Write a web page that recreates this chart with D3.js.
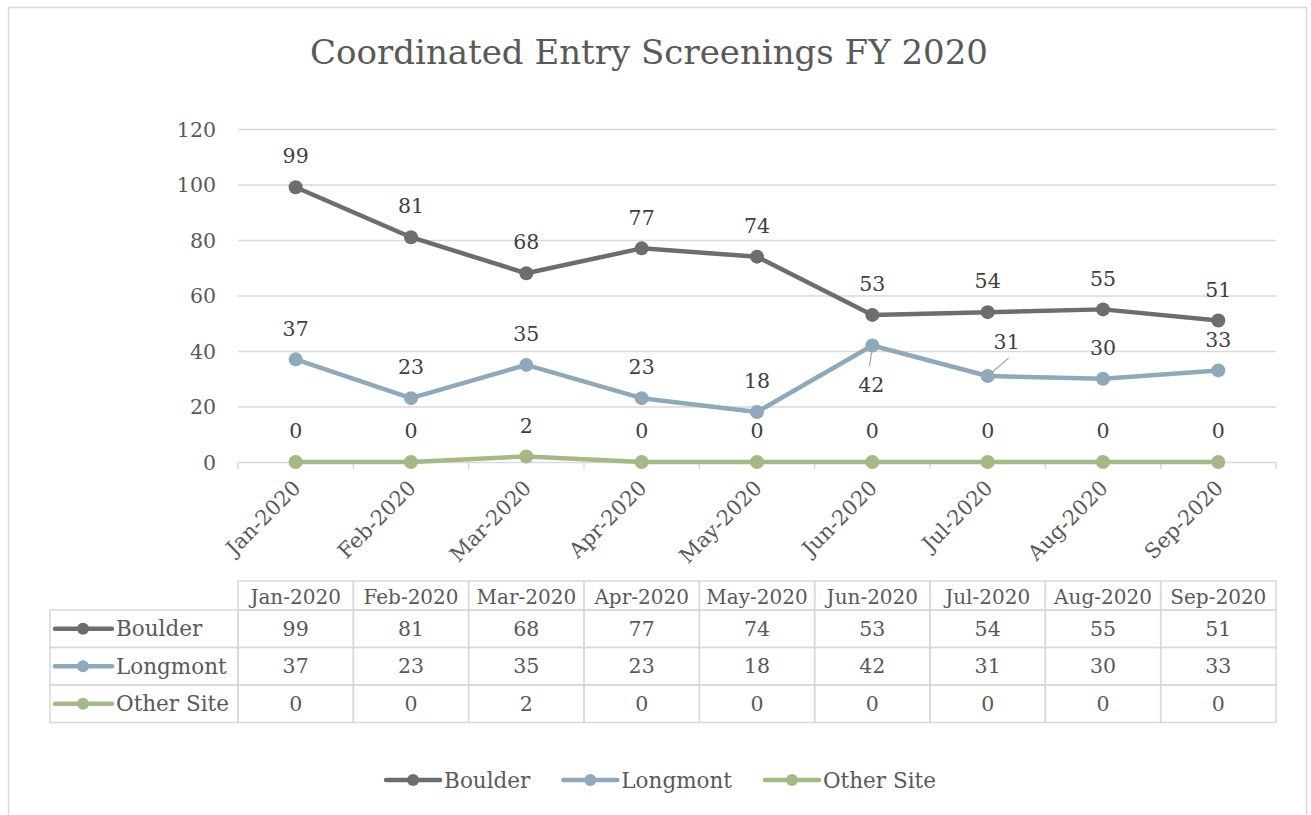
<!DOCTYPE html>
<html>
<head>
<meta charset="utf-8">
<script src="https://cdn.jsdelivr.net/npm/d3@7/dist/d3.min.js"></script>
<style>
  html, body { margin: 0; padding: 0; background: #fff; }
  svg { display: block; }
  text { font-family: "DejaVu Serif", "Liberation Serif", serif; }
</style>
</head>
<body>
<svg id="chart" width="1311" height="815"></svg>
<script>
const months = ["Jan-2020","Feb-2020","Mar-2020","Apr-2020","May-2020","Jun-2020","Jul-2020","Aug-2020","Sep-2020"];
const seriesNames = ["Boulder","Longmont","Other Site"];
const boulder = [99,81,68,77,74,53,54,55,51];
const longmont = [37,23,35,23,18,42,31,30,33];
const otherSite = [0,0,2,0,0,0,0,0,0];
const yTicks = [0,20,40,60,80,100,120];
const titleText = "Coordinated Entry Screenings FY 2020";

const colors = ["#6d6c72", "#8fa9ba", "#a5b888"];
const series = [boulder, longmont, otherSite].map((v, i) => ({ name: seriesNames[i], values: v, color: colors[i] }));

const svg = d3.select("#chart");
const textColor = "#595959";
const gridColor = "#d9d9d9";
const fsNum = 20.5;   // numbers / tick labels
const fsName = 21.5;  // series names
const fsMonth = 20;   // table header months
const fsRot = 21;     // rotated axis labels

// outer border
svg.append("rect").attr("x", 8.5).attr("y", 7.5).attr("width", 1298).attr("height", 830)
  .attr("fill", "#fff").attr("stroke", gridColor).attr("stroke-width", 1.5);

// title
svg.append("text").attr("x", 649).attr("y", 64).attr("text-anchor", "middle")
  .attr("fill", textColor).attr("font-size", 34).text(titleText);

const x = d3.scaleBand().domain(months).range([238, 1276]).padding(0);
const y = d3.scaleLinear().domain([0, 120]).range([462, 129]);
const cx = m => x(m) + x.bandwidth() / 2;

// gridlines
svg.append("g").selectAll("line").data(yTicks.filter(t => t > 0)).join("line")
  .attr("x1", 238).attr("x2", 1276).attr("y1", d => y(d) + 0.5).attr("y2", d => y(d) + 0.5)
  .attr("stroke", gridColor).attr("stroke-width", 1.5);

// y axis labels
const yAxis = d3.axisLeft(y).tickValues(yTicks).tickSize(0).tickPadding(0);
const yg = svg.append("g").attr("transform", "translate(216,0)").call(yAxis);
yg.select(".domain").remove();
yg.selectAll("text").attr("font-size", fsNum).attr("fill", textColor)
  .attr("font-family", "DejaVu Serif, serif").attr("dy", "0.35em");

// x axis line with boundary ticks
const xAxisG = svg.append("g");
xAxisG.append("line").attr("x1", 238).attr("x2", 1276).attr("y1", y(0) + 0.5).attr("y2", y(0) + 0.5)
  .attr("stroke", gridColor).attr("stroke-width", 1.5);
const bounds = months.map(m => x(m)).concat([x.range()[1]]);
xAxisG.selectAll("line.tk").data(bounds).join("line").attr("class", "tk")
  .attr("x1", d => d).attr("x2", d => d).attr("y1", y(0)).attr("y2", y(0) + 7)
  .attr("stroke", gridColor).attr("stroke-width", 1.5);
xAxisG.selectAll("text").data(months).join("text")
  .attr("transform", d => `translate(${cx(d) + 1},${y(0) + 22}) rotate(-45)`)
  .attr("text-anchor", "end").attr("font-size", fsRot).attr("fill", textColor)
  .attr("dy", "0.35em").text(d => d);

// lines
const line = d3.line().x((d, i) => cx(months[i])).y(d => y(d));
series.forEach(s => {
  svg.append("path").datum(s.values).attr("d", line).attr("fill", "none")
    .attr("stroke", s.color).attr("stroke-width", 4.5).attr("stroke-linejoin", "round");
  svg.append("g").selectAll("circle").data(s.values).join("circle")
    .attr("cx", (d, i) => cx(months[i])).attr("cy", d => y(d)).attr("r", 7).attr("fill", s.color);
});

// data labels
const labelColor = "#404040";
series.forEach((s, si) => {
  s.values.forEach((v, i) => {
    let lx = cx(months[i]), ly = y(v) - 31;
    let leader = null;
    if (si === 1 && i === 5) { // Jun Longmont label below
      lx = cx(months[i]) - 1; ly = y(v) + 39;
      leader = [[cx(months[i]), y(v) + 3], [cx(months[i]) - 3, y(v) + 21]];
    }
    if (si === 1 && i === 6) { // Jul Longmont label offset
      lx = cx(months[i]) + 19; ly = y(v) - 34;
      leader = [[cx(months[i]), y(v)], [cx(months[i]) + 21, y(v) - 18]];
    }
    if (leader) {
      svg.append("line").attr("x1", leader[0][0]).attr("y1", leader[0][1])
        .attr("x2", leader[1][0]).attr("y2", leader[1][1])
        .attr("stroke", "#a6a6a6").attr("stroke-width", 1.2);
    }
    svg.append("text").attr("x", lx).attr("y", ly).attr("text-anchor", "middle")
      .attr("dy", "0.35em").attr("font-size", fsNum).attr("fill", labelColor).text(v);
  });
});

// data table
const tTop = 581, hdrH = 29, rowH = 37.5, labLeft = 50, tLeft = 238;
const tg = svg.append("g");
months.forEach(m => {
  tg.append("rect").attr("x", x(m)).attr("y", tTop).attr("width", x.bandwidth()).attr("height", hdrH)
    .attr("fill", "none").attr("stroke", gridColor).attr("stroke-width", 1.5);
  tg.append("text").attr("x", cx(m)).attr("y", tTop + hdrH / 2 + 1).attr("dy", "0.35em")
    .attr("text-anchor", "middle").attr("font-size", fsMonth).attr("fill", textColor).text(m);
});
series.forEach((s, si) => {
  const ry = tTop + hdrH + si * rowH;
  tg.append("rect").attr("x", labLeft).attr("y", ry).attr("width", tLeft - labLeft).attr("height", rowH)
    .attr("fill", "none").attr("stroke", gridColor).attr("stroke-width", 1.5);
  tg.append("line").attr("x1", labLeft + 5).attr("x2", labLeft + 62).attr("y1", ry + rowH / 2).attr("y2", ry + rowH / 2)
    .attr("stroke", s.color).attr("stroke-width", 4.5).attr("stroke-linecap", "round");
  tg.append("circle").attr("cx", labLeft + 33).attr("cy", ry + rowH / 2).attr("r", 6).attr("fill", s.color);
  tg.append("text").attr("x", labLeft + 66).attr("y", ry + rowH / 2).attr("dy", "0.35em")
    .attr("font-size", fsName).attr("fill", textColor).text(s.name);
  s.values.forEach((v, i) => {
    const m = months[i];
    tg.append("rect").attr("x", x(m)).attr("y", ry).attr("width", x.bandwidth()).attr("height", rowH)
      .attr("fill", "none").attr("stroke", gridColor).attr("stroke-width", 1.5);
    tg.append("text").attr("x", cx(m)).attr("y", ry + rowH / 2).attr("dy", "0.35em")
      .attr("text-anchor", "middle").attr("font-size", fsNum).attr("fill", textColor).text(v);
  });
});

// legend
const lg = svg.append("g");
const legY = 780;
const itemNodes = [];
series.forEach((s, si) => {
  const g = lg.append("g");
  g.append("line").attr("x1", 2).attr("x2", 56).attr("y1", 0).attr("y2", 0)
    .attr("stroke", s.color).attr("stroke-width", 4.5).attr("stroke-linecap", "round");
  g.append("circle").attr("cx", 29).attr("cy", 0).attr("r", 6).attr("fill", s.color);
  const t = g.append("text").attr("x", 60).attr("y", 0).attr("dy", "0.35em")
    .attr("font-size", fsName).attr("fill", textColor).text(s.name);
  const w = 60 + t.node().getComputedTextLength();
  itemNodes.push({ g, w });
});
const gap = 31;
const total = d3.sum(itemNodes, d => d.w) + gap * (itemNodes.length - 1);
let cur = 660 - total / 2;
itemNodes.forEach(it => { it.g.attr("transform", `translate(${cur},${legY})`); cur += it.w + gap; });
</script>
</body>
</html>
